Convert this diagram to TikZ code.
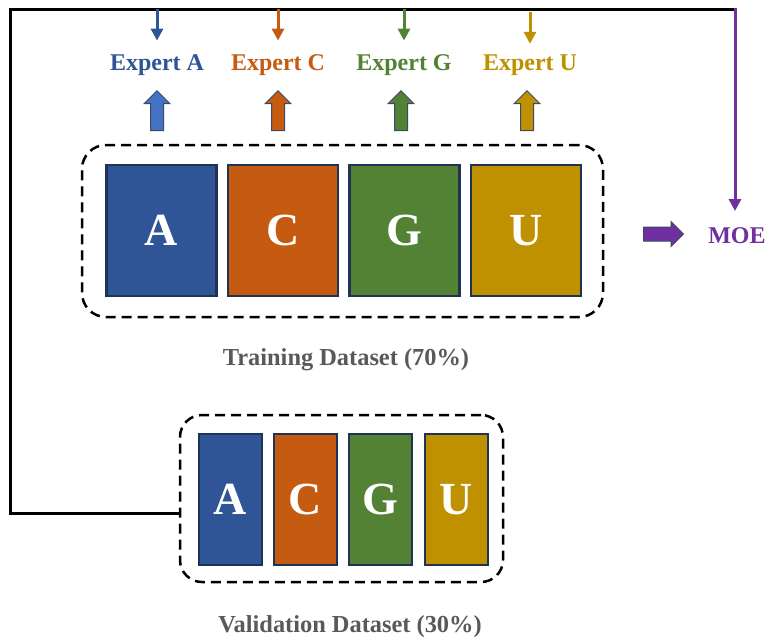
\documentclass[tikz,border=0pt]{standalone}
\usepackage{fontspec}
\setmainfont{Liberation Serif}
\usetikzlibrary{shapes.arrows,arrows.meta}
\definecolor{cA}{HTML}{2F5597}
\definecolor{cAl}{HTML}{4472C4}
\definecolor{cC}{HTML}{C55A11}
\definecolor{cG}{HTML}{548235}
\definecolor{cU}{HTML}{BF9000}
\definecolor{navy}{HTML}{1F3356}
\definecolor{moe}{HTML}{7030A0}
\definecolor{gtext}{HTML}{595959}
\definecolor{aborder}{HTML}{3B4A66}
\begin{document}
\begin{tikzpicture}[x=1pt,y=-1pt,
  letterbox/.style={draw=navy, line width=2.5pt, minimum height=131pt, inner sep=0pt,
    text=white, font=\fontsize{46}{50}\selectfont\bfseries},
  bigbox/.style={letterbox, minimum width=110pt},
  smallbox/.style={letterbox, minimum width=63pt},
  dashbox/.style={draw=black, line width=2.5pt, dash pattern=on 10pt off 6pt, rounded corners=24pt, inner sep=0pt},
  explabel/.style={anchor=base, font=\fontsize{24}{28}\selectfont\bfseries},
  dslabel/.style={anchor=base, text=gtext, font=\fontsize{24.4}{28}\selectfont\bfseries},
  uparrow/.style={single arrow, draw=aborder, line width=1pt, shape border rotate=90,
    minimum height=40pt, minimum width=25pt, single arrow head extend=6.5pt,
    single arrow head indent=0pt, inner sep=6pt, anchor=tip},
  smallarrow/.style={line width=3pt, -{Triangle[width=12pt,length=12pt]}},
  frame/.style={line width=3pt, draw=black}
]
\useasboundingbox (0,0) rectangle (774,641);

% training dataset
\node[dashbox, minimum width=521pt, minimum height=172pt] (train) at (342.5,231) {};
\node[bigbox, fill=cA] (tA) at (161.5,230.5) {A};
\node[bigbox, fill=cC] (tC) at (283,230.5) {C};
\node[bigbox, fill=cG] (tG) at (404.5,230.5) {G};
\node[bigbox, fill=cU] (tU) at (526,230.5) {U};
\node[dslabel] (trainlab) at (346,365.5) {Training Dataset (70\%)};

% validation dataset
\node[dashbox, minimum width=323pt, minimum height=167pt, rounded corners=22pt] (val) at (341.5,498.5) {};
\node[smallbox, fill=cA] (vA) at (230.5,499.5) {A};
\node[smallbox, fill=cC] (vC) at (305.5,499.5) {C};
\node[smallbox, fill=cG] (vG) at (380.5,499.5) {G};
\node[smallbox, fill=cU] (vU) at (456.5,499.5) {U};
\node[dslabel] (vallab) at (350,632) {Validation Dataset (30\%)};

% expert labels
\node[explabel, text=cA] (eA) at (157,70) {Expert A};
\node[explabel, text=cC] (eC) at (278,70) {Expert C};
\node[explabel, text=cG] (eG) at (404,70) {Expert G};
\node[explabel, text=cU] (eU) at (530,70) {Expert U};

% block up arrows
\node[uparrow, fill=cAl] (uA) at (157,90) {};
\node[uparrow, fill=cC] (uC) at (278,90) {};
\node[uparrow, fill=cG] (uG) at (401,90) {};
\node[uparrow, fill=cU] (uU) at (527,90) {};

% MOE
\node[anchor=base, text=moe, font=\fontsize{24}{28}\selectfont\bfseries] (moeN) at (737,243) {MOE};
\node[single arrow, draw=aborder, line width=1pt, fill=moe, minimum height=40pt, minimum width=24pt,
  single arrow head extend=5.5pt, single arrow head indent=0pt, inner sep=6.5pt, anchor=tail] (mA) at (643,234) {};

% frame connector
\coordinate (ctl) at (10,9);
\coordinate (ctr) at (735,9);
\coordinate (mtip) at (735,211);
\draw[frame] ([yshift=-14.5pt]val.west) -| (ctl) -- (ctr);
\draw[line width=3pt, draw=moe, -{Triangle[width=12pt,length=12pt]}] ([yshift=1.5pt]ctr) -- (mtip);

% small arrows to experts
\draw[smallarrow, draw=cA, fill=cA] (eA.north |- ctl) -- ([yshift=10pt]eA.north);
\draw[smallarrow, draw=cC, fill=cC] (eC.north |- ctl) -- ([yshift=10pt]eC.north);
\draw[smallarrow, draw=cG, fill=cG] (eG.north |- ctl) -- ([yshift=10pt]eG.north);
\draw[smallarrow, draw=cU, fill=cU] ([yshift=-3pt]eU.north |- ctl) -- ([yshift=7pt]eU.north);
\end{tikzpicture}
\end{document}
